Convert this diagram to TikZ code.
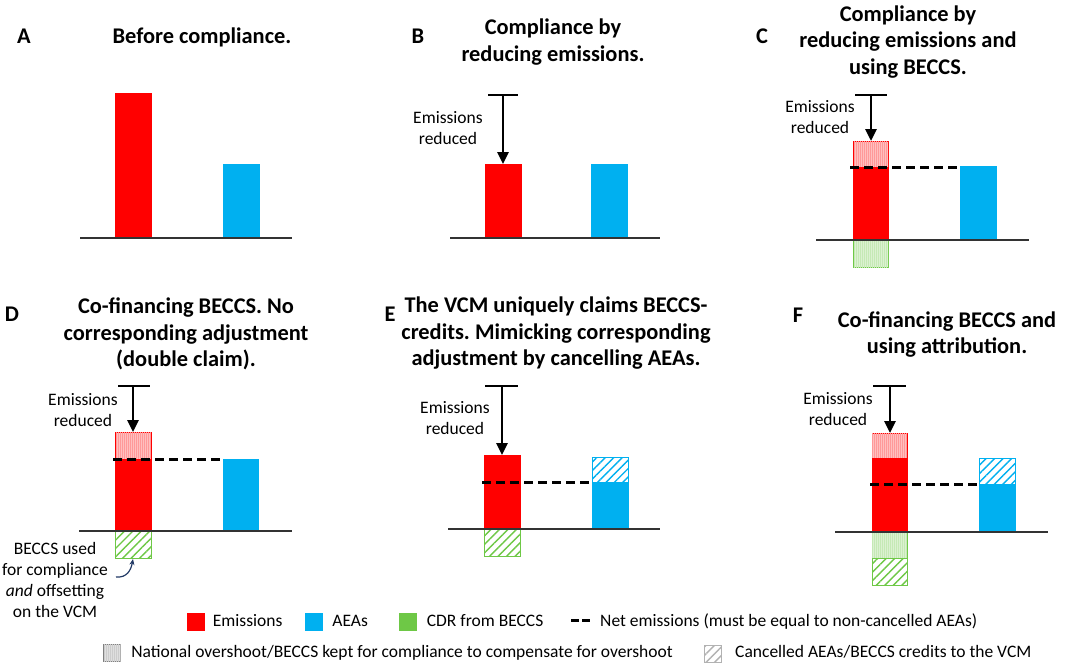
\documentclass[tikz,border=0pt]{standalone}
\usepackage{fontspec}
\setmainfont{Carlito}
\usetikzlibrary{arrows.meta,patterns.meta,positioning}
\definecolor{emisred}{RGB}{255,0,0}
\definecolor{aeablue}{RGB}{0,176,240}
\definecolor{cdrgreen}{RGB}{110,200,70}
\definecolor{notenavy}{RGB}{32,56,100}
\frenchspacing
\tikzset{
  emis/.style={fill=emisred,draw=emisred,line width=0.8pt},
  aea/.style={fill=aeablue,draw=aeablue,line width=0.8pt},
  overshoot/.style={draw=#1,line width=0.9pt,fill=#1!25,
    postaction={pattern={Lines[angle=90,distance=2pt,line width=0.5pt]},pattern color=#1!40}},
  cancelled/.style={draw=#1,line width=1pt,fill=white,
    postaction={pattern={Lines[angle=45,distance=6pt,line width=1.4pt]},pattern color=#1}},
  axisline/.style={line width=1.3pt,draw=black!80},
  netline/.style={line width=3pt,dash pattern=on 9pt off 5pt},
  cutarrow/.style={line width=2.7pt,-{Triangle[length=12pt,width=11pt]}},
  tbar/.style={line width=1.4pt},
  paneltitle/.style={font=\fontsize{22.4}{26.5}\selectfont\bfseries,align=center},
  panelletter/.style={font=\fontsize{22.4}{26.5}\selectfont\bfseries,anchor=base},
  reducedlabel/.style={font=\fontsize{17.5}{21}\selectfont,align=center},
  legtext/.style={font=\fontsize{17.5}{21}\selectfont,anchor=west,inner sep=0pt,
    text height=12pt,text depth=4pt},
  legbox/.style={minimum width=18pt,minimum height=18pt,inner sep=0pt},
}
\begin{document}
\begin{tikzpicture}[x=1pt,y=-1pt]
  \useasboundingbox (0,0) rectangle (1065,664);

  % A: before compliance
  \node [panelletter] (la) at (24,43) {A};
  \node [paneltitle] (ta) at (202,37) {Before compliance.};
  \draw [emis] (115,93) rectangle (151,238);
  \draw [aea] (223,164) rectangle (259,238);
  \draw [axisline] (80,238) -- (292,238);

  % B: reducing emissions
  \node [panelletter] (lb) at (418,43) {B};
  \node [paneltitle] (tb) at (553,42) {Compliance by\\reducing emissions.};
  \draw [emis] (485,164) rectangle (521,238);
  \draw [aea] (591,164) rectangle (627,238);
  \draw [axisline] (450,238) -- (660,238);
  \coordinate (btop) at (503,95);
  \coordinate (bbar) at (503,164);
  \draw [tbar] (488,95) -- (518,95);
  \draw [cutarrow] (btop) -- (bbar);
  \node [reducedlabel] (rb) at (448,128) {Emissions\\reduced};

  % C: reducing emissions and BECCS
  \node [panelletter] (lc) at (762,43) {C};
  \node [paneltitle] (tc) at (908,42) {Compliance by\\reducing emissions and\\using BECCS.};
  \draw [overshoot=emisred] (853,141) rectangle (888,167);
  \draw [emis] (853,167) rectangle (888,240);
  \draw [overshoot=cdrgreen] (853,240) rectangle (888,267);
  \draw [aea] (960,166) rectangle (996,240);
  \draw [axisline] (816,240) -- (1029,240);
  \draw [netline] (850,167) -- (960,167);
  \coordinate (ctop) at (871,95);
  \coordinate (cbar) at (871,141);
  \draw [tbar] (855,95) -- (887,95);
  \draw [cutarrow] (ctop) -- (cbar);
  \node [reducedlabel] (rc) at (820,117.5) {Emissions\\reduced};

  % D: double claim
  \node [panelletter] (ld) at (12,321) {D};
  \node [paneltitle] (td) at (186,334) {Co-financing BECCS. No\\corresponding adjustment\\(double claim).};
  \draw [overshoot=emisred] (115,432) rectangle (151,459);
  \draw [emis] (115,459) rectangle (151,531);
  \draw [cancelled=cdrgreen] (115,531) rectangle (151,558);
  \draw [aea] (223,459) rectangle (258,531);
  \draw [axisline] (79,531) -- (292,531);
  \draw [netline] (113,459) -- (223,459);
  \coordinate (dtop) at (133,386);
  \coordinate (dbar) at (133,432);
  \draw [tbar] (118,386) -- (150,386);
  \draw [cutarrow] (dtop) -- (dbar);
  \node [reducedlabel] (rd) at (83,410) {Emissions\\reduced};
  \node [reducedlabel] (nd) at (55,579.5) {BECCS used\\for compliance\\\textit{and} offsetting\\on the VCM};
  \coordinate (dnote) at (116,577);
  \coordinate (dcdr) at (133,559);
  \draw [notenavy, line width=1.2pt, -{Stealth[length=6pt,width=5pt]}]
    (dnote) .. controls (127,578) and (131,570) .. (dcdr);

  % E: VCM claims, AEAs cancelled
  \node [panelletter] (le) at (390,321) {E};
  \node [paneltitle] (te) at (556,333.5) {The VCM uniquely claims BECCS-\\credits. Mimicking corresponding\\adjustment by cancelling AEAs.};
  \draw [emis] (484,455) rectangle (520,529);
  \draw [cancelled=cdrgreen] (484,529) rectangle (520,556);
  \draw [cancelled=aeablue] (592,457) rectangle (628,482);
  \draw [aea] (592,482) rectangle (628,529);
  \draw [axisline] (448,529) -- (660,529);
  \draw [netline] (482,482) -- (592,482);
  \coordinate (etop) at (502,386);
  \coordinate (ebar) at (502,455);
  \draw [tbar] (485,386) -- (518,386);
  \draw [cutarrow] (etop) -- (ebar);
  \node [reducedlabel] (re) at (455,418) {Emissions\\reduced};

  % F: attribution
  \node [panelletter] (lf) at (798,322) {F};
  \node [paneltitle] (tf) at (947,334.5) {Co-financing BECCS and\\using attribution.};
  \draw [overshoot=emisred] (872,433) rectangle (907,458);
  \draw [emis] (872,458) rectangle (907,532);
  \draw [overshoot=cdrgreen] (872,532) rectangle (907,558);
  \draw [cancelled=cdrgreen] (872,558) rectangle (907,585);
  \draw [cancelled=aeablue] (979,458) rectangle (1015,484);
  \draw [aea] (979,484) rectangle (1015,532);
  \draw [axisline] (835,532) -- (1048,532);
  \draw [netline] (870,484) -- (979,484);
  \coordinate (ftop) at (890,386);
  \coordinate (fbar) at (890,433);
  \draw [tbar] (873,386) -- (906,386);
  \draw [cutarrow] (ftop) -- (fbar);
  \node [reducedlabel] (rf) at (838,409) {Emissions\\reduced};

  % legend
  \node [legbox,fill=emisred] (kemis) at (195.5,622) {};
  \node [legtext,right=8pt of kemis] (temis) {Emissions};
  \node [legbox,fill=aeablue] (kaea) at (314,622) {};
  \node [legtext,right=9pt of kaea] (taea) {AEAs};
  \node [legbox,fill=cdrgreen] (kcdr) at (407.5,622) {};
  \node [legtext,right=10pt of kcdr] (tcdr) {CDR from BECCS};
  \coordinate (knet) at (571,620);
  \coordinate (knetend) at (590,620);
  \draw [line width=3pt,dash pattern=on 8pt off 3pt] (knet) -- (knetend);
  \node [legtext] (tnet) at (600,622) {Net emissions (must be equal to non-cancelled AEAs)};
  \node [legtext,anchor=east] (tover) at (673,653) {National overshoot/BECCS kept for compliance to compensate for overshoot};
  \node [legbox,overshoot=gray,minimum width=17pt,minimum height=17pt,left=10pt of tover] (kover) {};
  \node [legbox,cancelled=gray!60,minimum width=17pt,minimum height=17pt] (kcanc) at (712.5,653.5) {};
  \node [legtext] (tcanc) at (735,653) {Cancelled AEAs/BECCS credits to the VCM};
\end{tikzpicture}
\end{document}
